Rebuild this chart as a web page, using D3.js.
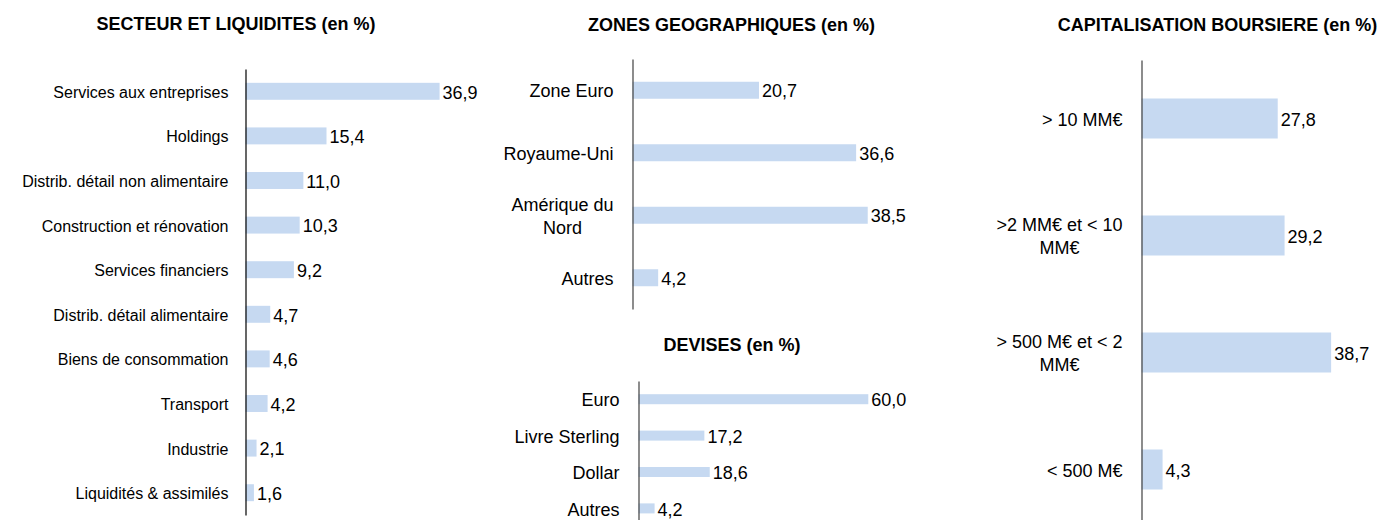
<!DOCTYPE html>
<html>
<head>
<meta charset="utf-8">
<script src="https://cdn.jsdelivr.net/npm/d3@7"></script>
<style>
  html, body { margin: 0; padding: 0; background: #fff; }
  svg { display: block; }
  text { font-family: "Liberation Sans", Arial, sans-serif; fill: #000; }
</style>
</head>
<body>
<svg id="chart" width="1383" height="520"></svg>
<script>
// ---- Data ----
const secteurTitle = "SECTEUR ET LIQUIDITES (en %)";
const secteurCategories = [
  "Services aux entreprises", "Holdings", "Distrib. détail non alimentaire",
  "Construction et rénovation", "Services financiers", "Distrib. détail alimentaire",
  "Biens de consommation", "Transport", "Industrie", "Liquidités & assimilés"
];
const secteurValues = [36.9, 15.4, 11.0, 10.3, 9.2, 4.7, 4.6, 4.2, 2.1, 1.6];

const zonesTitle = "ZONES GEOGRAPHIQUES (en %)";
const zonesCategories = ["Zone Euro", "Royaume-Uni", "Amérique du\nNord", "Autres"];
const zonesValues = [20.7, 36.6, 38.5, 4.2];

const devisesTitle = "DEVISES (en %)";
const devisesCategories = ["Euro", "Livre Sterling", "Dollar", "Autres"];
const devisesValues = [60.0, 17.2, 18.6, 4.2];

const capiTitle = "CAPITALISATION BOURSIERE (en %)";
const capiCategories = ["> 10 MM€", ">2 MM€ et < 10\nMM€", "> 500 M€ et < 2\nMM€", "< 500 M€"];
const capiValues = [27.8, 29.2, 38.7, 4.3];

// ---- Rendering ----
const svg = d3.select("#chart");
const locale = d3.formatLocale({decimal: ",", thousands: " ", grouping: [3], currency: ["", " €"]});
const fmt = locale.format(".1f");
const BAR = "#C6D9F1";
const TFS = 18;

function panel(cfg) {
  const data = cfg.categories.map((c, i) => ({cat: c, val: cfg.values[i]}));
  const y = d3.scaleBand()
    .domain(cfg.categories)
    .range([cfg.top, cfg.bottom])
    .paddingInner(cfg.pad)
    .paddingOuter(cfg.pad / 2);
  const x = d3.scaleLinear().domain([0, cfg.xMax]).range([cfg.axisX, cfg.axisX + cfg.width]);

  const g = svg.append("g");

  g.append("text")
    .attr("x", cfg.titleX).attr("y", cfg.titleY)
    .attr("text-anchor", "middle")
    .style("font-weight", "bold")
    .style("font-size", TFS + "px")
    .text(cfg.title);

  g.selectAll("rect.bar").data(data).join("rect")
    .attr("class", "bar")
    .attr("x", x(0))
    .attr("y", d => y(d.cat))
    .attr("width", d => x(d.val) - x(0))
    .attr("height", y.bandwidth())
    .attr("fill", BAR);

  g.selectAll("text.val").data(data).join("text")
    .attr("class", "val")
    .attr("x", d => x(d.val) + 3)
    .attr("y", d => y(d.cat) + y.bandwidth() / 2)
    .attr("dy", "0.4em")
    .style("font-size", cfg.valFs + "px")
    .text(d => fmt(d.val));

  const axis = d3.axisLeft(y).tickSize(0).tickPadding(cfg.labelPad);
  const ag = g.append("g")
    .attr("transform", `translate(${x(0)},0)`)
    .call(axis);
  ag.attr("font-family", null).attr("font-size", null);
  ag.select(".domain").attr("stroke", cfg.axisColor).attr("stroke-width", 1.2);
  ag.selectAll(".tick text").each(function(d) {
    const t = d3.select(this);
    const lines = d.split("\n");
    const lh = 23;
    t.text(null)
      .attr("dy", null)
      .attr("y", 0)
      .style("font-size", cfg.catFs + "px")
      .attr("fill", "#000")
      .attr("text-anchor", "end");
    if (lines.length === 1) {
      t.append("tspan").attr("x", -cfg.labelPad).attr("dy", "0.4em").text(lines[0]);
    } else {
      // centered lines, block right-aligned
      const spans = lines.map((ln, i) =>
        t.append("tspan").attr("text-anchor", "middle").attr("x", 0)
          .attr("y", (i - (lines.length - 1) / 2) * lh).attr("dy", "0.4em").text(ln));
      const maxW = d3.max(spans, s => s.node().getComputedTextLength());
      spans.forEach(s => s.attr("x", -cfg.labelPad - maxW / 2));
    }
  });
}

panel({title: secteurTitle, categories: secteurCategories, values: secteurValues,
  titleX: 236, titleY: 30, axisX: 245.5, top: 69, bottom: 515, pad: 0.62,
  xMax: 40, width: 210.4, labelPad: 17, axisColor: "#000", catFs: 16, valFs: 18});

panel({title: zonesTitle, categories: zonesCategories, values: zonesValues,
  titleX: 731.5, titleY: 31, axisX: 632.5, top: 59, bottom: 309, pad: 0.728,
  xMax: 40, width: 244.4, labelPad: 19, axisColor: "#404040", catFs: 18, valFs: 18});

panel({title: devisesTitle, categories: devisesCategories, values: devisesValues,
  titleX: 732, titleY: 351, axisX: 638.5, top: 381, bottom: 526.6, pad: 0.725,
  xMax: 70, width: 268.1, labelPad: 19, axisColor: "#404040", catFs: 18, valFs: 18});

panel({title: capiTitle, categories: capiCategories, values: capiValues,
  titleX: 1217.5, titleY: 31, axisX: 1141.5, top: 60, bottom: 528, pad: 0.658,
  xMax: 45, width: 220.5, labelPad: 19, axisColor: "#404040", catFs: 18, valFs: 18});
</script>
</body>
</html>
